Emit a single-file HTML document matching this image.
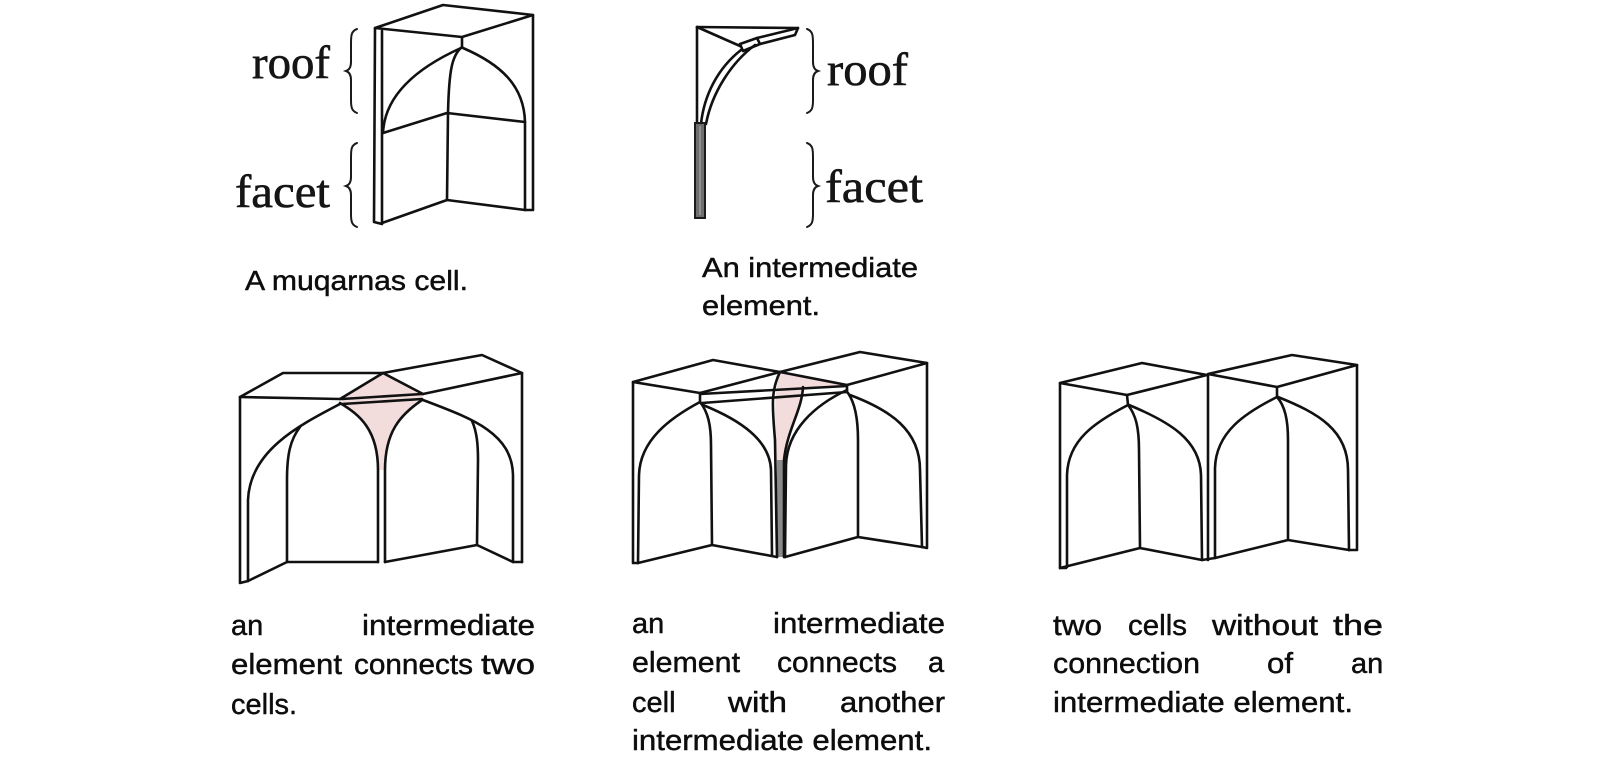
<!DOCTYPE html>
<html>
<head>
<meta charset="utf-8">
<style>
  html, body { margin: 0; padding: 0; background: #ffffff; }
  body { width: 1602px; height: 765px; overflow: hidden; }
  svg { display: block; }
  .ln { fill: none; stroke: #111; stroke-width: 2.6; stroke-linejoin: round; stroke-linecap: round; }
  .br { fill: none; stroke: #1a1a1a; stroke-width: 2; stroke-linecap: round; }
  .serif { font-family: "Liberation Serif", serif; font-size: 47px; fill: #151515; stroke: #151515; stroke-width: 0.6; }
  .cap { font-family: "Liberation Sans", sans-serif; font-size: 29px; fill: #0d0d0d; stroke: #0d0d0d; stroke-width: 0.45; }
  .cap2 { font-family: "Liberation Sans", sans-serif; font-size: 28px; fill: #0d0d0d; stroke: #0d0d0d; stroke-width: 0.45; }
</style>
</head>
<body>
<svg width="1602" height="765" viewBox="0 0 1602 765" xmlns="http://www.w3.org/2000/svg">
  <rect x="0" y="0" width="1602" height="765" fill="#ffffff"/>

  <!-- ===== Figure A : muqarnas cell ===== -->
  <g>
    <path class="ln" d="M375,28 L443,5 L533,15 L462,37 Z"/>
    <path class="ln" d="M375,28 L374,222 L382,224 L382,31"/>
    <path class="ln" d="M382,223 L447,200 L525,210 L533,210 L533,15"/>
    <path class="ln" d="M462,37 L462,47"/>
    <path class="ln" d="M462,47 C452,55 449,70 448,113 L447,200"/>
    <path class="ln" d="M461,48 C430,62 385,88 383,133"/>
    <path class="ln" d="M463,48 C500,64 524,85 525,122 L525,210"/>
    <path class="ln" d="M383,133 L447,113 L525,122"/>
    <!-- braces -->
    <path class="br" d="M357,29 C351,31 351,36 351,44 L351,62 C351,67 349,70 346,71 C349,72 351,75 351,80 L351,100 C351,108 352,111 357,113"/>
    <path class="br" d="M357,143 C351,145 351,150 351,158 L351,177 C351,182 349,185 346,186 C349,187 351,190 351,195 L351,214 C351,222 352,225 357,227"/>
    <text class="serif" x="252" y="78" textLength="78" lengthAdjust="spacingAndGlyphs">roof</text>
    <text class="serif" x="235" y="207" textLength="95" lengthAdjust="spacingAndGlyphs">facet</text>
    <text class="cap2" x="245" y="290" textLength="223" lengthAdjust="spacingAndGlyphs">A muqarnas cell.</text>
  </g>

  <!-- ===== Figure B : intermediate element ===== -->
  <g>
    <path class="ln" d="M697,27 L798,28 L795,35 L760,44"/>
    <path class="ln" d="M697,27 L697,125"/>
    <path class="ln" d="M697,27 L740,46"/>
    <path class="ln" d="M740,44 L757,38 L760,44 L743,51 Z"/>
    <path class="ln" d="M757,38 L798,28"/>
    <path class="ln" d="M741,50 C718,68 704,95 701,124"/>
    <path class="ln" d="M755,45 C732,62 712,92 706,124"/>
    <rect x="695" y="123" width="10" height="95" fill="#6e6e6e" stroke="#1a1a1a" stroke-width="2"/>
    <line x1="700" y1="126" x2="700" y2="215" stroke="#a8a8a8" stroke-width="1.2"/>
    <!-- braces -->
    <path class="br" d="M807,29 C813,31 813,36 813,44 L813,62 C813,67 815,70 818,71 C815,72 813,75 813,80 L813,100 C813,108 812,111 807,113"/>
    <path class="br" d="M807,143 C813,145 813,150 813,158 L813,177 C813,182 815,185 818,186 C815,187 813,190 813,195 L813,214 C813,222 812,225 807,227"/>
    <text class="serif" x="827" y="85" textLength="81" lengthAdjust="spacingAndGlyphs">roof</text>
    <text class="serif" x="825" y="202" textLength="98" lengthAdjust="spacingAndGlyphs">facet</text>
    <text class="cap2" x="702" y="277" textLength="216" lengthAdjust="spacingAndGlyphs">An intermediate</text>
    <text class="cap2" x="702" y="315" textLength="118" lengthAdjust="spacingAndGlyphs">element.</text>
  </g>

  <!-- ===== Figure C : intermediate element connects two cells ===== -->
  <g>
    <path d="M383,374 L340,400 C355,412 376,430 378,470 L385,470 C386,430 405,410 423,396 Z" fill="#f3dcdc" stroke="none"/>
    <path class="ln" d="M240,397 L283,373 L383,373 L482,355 L522,373 L423,394"/>
    <path class="ln" d="M240,397 L340,399"/>
    <path class="ln" d="M383,373 L340,399"/>
    <path class="ln" d="M383,373 L423,394"/>
    <path class="ln" d="M342,399 L422,394"/>
    <path class="ln" d="M342,404 L422,399"/>
    <path class="ln" d="M340,403 C360,415 378,430 378,470 L378,562"/>
    <path class="ln" d="M422,400 C400,415 385,432 385,470 L385,562"/>
    <path class="ln" d="M240,397 L240,583 L248,581"/>
    <path class="ln" d="M340,404 C300,425 250,450 248,500 L248,581"/>
    <path class="ln" d="M300,427 C290,440 287,455 287,480 L287,562"/>
    <path class="ln" d="M287,562 L378,562"/>
    <path class="ln" d="M287,562 L248,581"/>
    <path class="ln" d="M423,400 C470,418 512,432 513,475 L513,562"/>
    <path class="ln" d="M472,421 C477,432 478,445 478,460 L477,545"/>
    <path class="ln" d="M522,373 L522,562"/>
    <path class="ln" d="M385,562 L477,545 L513,562 L522,562"/>
  </g>

  <!-- ===== Figure D : cell with another intermediate element ===== -->
  <g>
    <path d="M780,372 L847,386 L803,390 C800,410 785,430 783,470 L777,470 C776,430 772,400 780,372 Z" fill="#f3dcdc" stroke="none"/>
    <path class="ln" d="M633,382 L713,360 L780,372 L700,393 Z"/>
    <path class="ln" d="M780,372 L860,352 L927,363 L847,385 Z"/>
    <path class="ln" d="M700,394 L847,386"/>
    <path class="ln" d="M702,403 L847,392"/>
    <path class="ln" d="M700,393 L700,402"/>
    <path class="ln" d="M847,385 L847,392"/>
    <path d="M777,460 L784,460 L784,557 L777,557 Z" fill="#8a8a8a" stroke="none"/>
    <path class="ln" d="M780,372 C771,390 772,405 775,440 L777,557"/>
    <path class="ln" d="M803,387 C802,410 787,430 784,460 L784,557"/>
    <path class="ln" d="M633,382 L633,563 L638,563"/>
    <path class="ln" d="M700,402 C670,418 640,440 639,475 L638,563"/>
    <path class="ln" d="M700,402 C708,412 711,425 711,445 L712,545"/>
    <path class="ln" d="M703,405 C740,420 770,440 771,470 L772,555"/>
    <path class="ln" d="M847,390 C815,405 787,430 786,465 L785,557"/>
    <path class="ln" d="M848,393 C855,403 858,418 858,440 L858,537"/>
    <path class="ln" d="M850,395 C890,410 920,430 920,470 L922,547"/>
    <path class="ln" d="M927,363 L927,548 L922,547"/>
    <path class="ln" d="M638,563 L712,545 L777,557"/>
    <path class="ln" d="M785,557 L858,537 L922,547"/>
  </g>

  <!-- ===== Figure E : two cells without connection ===== -->
  <g>
    <path class="ln" d="M1060,383 L1142,363 L1207,375 L1127,395 Z"/>
    <path class="ln" d="M1208,374 L1292,355 L1357,365 L1277,387 Z"/>
    <path class="ln" d="M1127,395 L1128,405"/>
    <path class="ln" d="M1277,387 L1277,397"/>
    <path class="ln" d="M1060,383 L1060,568 L1066,568"/>
    <path class="ln" d="M1128,405 C1095,422 1068,440 1067,475 L1067,567"/>
    <path class="ln" d="M1128,405 C1136,415 1139,428 1139,450 L1140,548"/>
    <path class="ln" d="M1129,405 C1170,422 1200,440 1201,475 L1202,560"/>
    <path class="ln" d="M1208,375 L1208,560"/>
    <path class="ln" d="M1277,397 C1245,413 1216,432 1215,468 L1215,558"/>
    <path class="ln" d="M1277,397 C1285,406 1288,420 1288,440 L1288,540"/>
    <path class="ln" d="M1278,397 C1318,413 1348,430 1348,470 L1349,550"/>
    <path class="ln" d="M1357,365 L1357,550 L1349,550"/>
    <path class="ln" d="M1060,568 L1140,548 L1202,560 L1215,558 L1288,540 L1349,550"/>
  </g>

  <!-- ===== Captions ===== -->
  <!-- left -->
  <text class="cap" x="231" y="635">an</text>
  <text class="cap" x="362" y="635" textLength="173" lengthAdjust="spacingAndGlyphs">intermediate</text>
  <text class="cap" x="231" y="674" textLength="111" lengthAdjust="spacingAndGlyphs">element</text>
  <text class="cap" x="354" y="674" textLength="119" lengthAdjust="spacingAndGlyphs">connects</text>
  <text class="cap" x="481" y="674" textLength="54" lengthAdjust="spacingAndGlyphs">two</text>
  <text class="cap" x="231" y="714">cells.</text>

  <!-- middle -->
  <text class="cap" x="632" y="633">an</text>
  <text class="cap" x="773" y="633" textLength="172" lengthAdjust="spacingAndGlyphs">intermediate</text>
  <text class="cap" x="632" y="672" textLength="108" lengthAdjust="spacingAndGlyphs">element</text>
  <text class="cap" x="777" y="672" textLength="120" lengthAdjust="spacingAndGlyphs">connects</text>
  <text class="cap" x="928" y="672">a</text>
  <text class="cap" x="632" y="712">cell</text>
  <text class="cap" x="728" y="712" textLength="59" lengthAdjust="spacingAndGlyphs">with</text>
  <text class="cap" x="840" y="712" textLength="105" lengthAdjust="spacingAndGlyphs">another</text>
  <text class="cap" x="632" y="750" textLength="300" lengthAdjust="spacingAndGlyphs">intermediate element.</text>

  <!-- right -->
  <text class="cap" x="1053" y="635" textLength="49" lengthAdjust="spacingAndGlyphs">two</text>
  <text class="cap" x="1128" y="635" textLength="59" lengthAdjust="spacingAndGlyphs">cells</text>
  <text class="cap" x="1212" y="635" textLength="106" lengthAdjust="spacingAndGlyphs">without</text>
  <text class="cap" x="1333" y="635" textLength="50" lengthAdjust="spacingAndGlyphs">the</text>
  <text class="cap" x="1053" y="673" textLength="147" lengthAdjust="spacingAndGlyphs">connection</text>
  <text class="cap" x="1267" y="673" textLength="26" lengthAdjust="spacingAndGlyphs">of</text>
  <text class="cap" x="1351" y="673">an</text>
  <text class="cap" x="1053" y="712" textLength="300" lengthAdjust="spacingAndGlyphs">intermediate element.</text>
</svg>
</body>
</html>
